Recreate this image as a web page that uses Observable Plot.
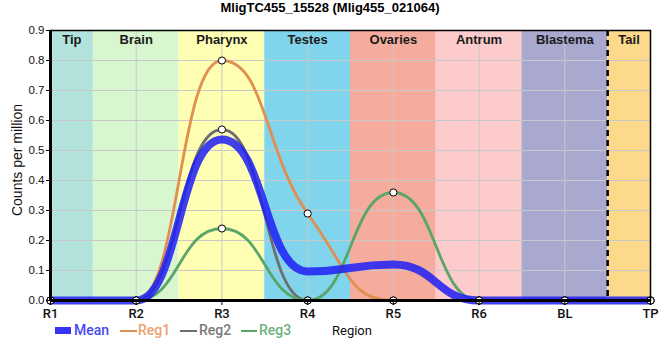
<!DOCTYPE html>
<html>
<head>
<meta charset="utf-8">
<script src="https://cdn.jsdelivr.net/npm/d3@7"></script>
<script src="https://cdn.jsdelivr.net/npm/@observablehq/plot@0.6"></script>
<style>
  body { margin: 0; background: #fff; }
  #wrap { position: relative; width: 660px; height: 360px; overflow: hidden; }
  #title { position: absolute; left: 0; top: 0; width: 660px; text-align: center;
           font: bold 13px "Liberation Sans", Arial, sans-serif; line-height: 16px; color: #000; }
  #chart { position: absolute; left: 0; top: 0; }
  #ylabel { position: absolute; left: 17px; top: 160px; transform: translate(-50%, -50%) rotate(-90deg);
            white-space: nowrap; font: 14px "Liberation Sans", Arial, sans-serif; line-height: 16px; color: #111; }
  #legend { position: absolute; left: 0; top: 0; width: 660px; height: 360px; pointer-events: none; }
  .sw { position: absolute; }
  .lt { position: absolute; top: 322px; font: 500 14px Roboto, "Open Sans", sans-serif; line-height: 16px; }
  #xlabel { position: absolute; left: 332px; top: 322.5px; font: 13px Roboto, sans-serif; line-height: 16px; color: #111; }
</style>
</head>
<body>
<div id="wrap">
  <div id="chart"></div>
  <div id="title"></div>
  <div id="ylabel"></div>
  <div id="legend"></div>
  <div id="xlabel"></div>
</div>
<script>
// ---- data ----
const titleText = "MligTC455_15528 (Mlig455_021064)";
const yLabel = "Counts per million";
const xLabel = "Region";
const regions = ["R1", "R2", "R3", "R4", "R5", "R6", "BL", "TP"];
const reg1 = [0, 0, 0.80, 0.29, 0, 0, 0, 0];
const reg2 = [0, 0, 0.57, 0, 0, 0, 0, 0];
const reg3 = [0, 0, 0.24, 0, 0.36, 0, 0, 0];
const mean = [0, 0, 0.537, 0.097, 0.12, 0, 0, 0];
const bandNames = ["Tip", "Brain", "Pharynx", "Testes", "Ovaries", "Antrum", "Blastema", "Tail"];
const bandColors = ["#b3e3dd", "#d8f6cf", "#ffffb4", "#80d4ec", "#f5ac9d", "#fdcbcb", "#a9a8cf", "#fdda8b"];
const yTicks = [0, 0.1, 0.2, 0.3, 0.4, 0.5, 0.6, 0.7, 0.8, 0.9];
const seriesNames = ["Mean", "Reg1", "Reg2", "Reg3"];
const seriesColors = ["#1f1ff5", "#e08f50", "#6e6e6e", "#5aa56a"];
const legendTextColors = ["#4848f2", "#eea06e", "#7a7a7a", "#6cb27b"];

// ---- smooth monotone curve (rendering only: bezier segments through the scaled points) ----
function curveSmoothMono(context) {
  const K = 0.5;
  let pts = [];
  return {
    areaStart() {}, areaEnd() {},
    lineStart() { pts = []; },
    point(x, y) { pts.push([+x, +y]); },
    lineEnd() {
      const n = pts.length;
      if (!n) return;
      context.moveTo(pts[0][0], pts[0][1]);
      if (n === 1) return;
      const s = [];
      for (let i = 0; i < n - 1; i++) s.push((pts[i + 1][1] - pts[i][1]) / (pts[i + 1][0] - pts[i][0]));
      const m = new Array(n);
      m[0] = s[0]; m[n - 1] = s[n - 2];
      for (let i = 1; i < n - 1; i++) {
        const h0 = pts[i][0] - pts[i - 1][0], h1 = pts[i + 1][0] - pts[i][0];
        const p = (s[i - 1] * h1 + s[i] * h0) / (h0 + h1);
        m[i] = (Math.sign(s[i - 1]) + Math.sign(s[i])) * Math.min(Math.abs(s[i - 1]), Math.abs(s[i]), 0.5 * Math.abs(p)) || 0;
      }
      if (n > 2) { m[0] = 0; m[n - 1] = 0; }
      for (let i = 0; i < n - 1; i++) {
        const [x0, y0] = pts[i], [x1, y1] = pts[i + 1], dx = x1 - x0;
        context.bezierCurveTo(x0 + K * dx, y0 + K * dx * m[i], x1 - K * dx, y1 - K * dx * m[i + 1], x1, y1);
      }
    }
  };
}

// ---- derived tables ----
const idx = regions.map((_, i) => i);
const last = regions.length - 1;
const bands = bandNames.map((name, i) => ({
  name, color: bandColors[i],
  x1: Math.max(0, i - 0.5), x2: Math.min(last, i + 0.5),
  xc: (Math.max(0, i - 0.5) + Math.min(last, i + 0.5)) / 2
}));
const tailStart = bands[bandNames.indexOf("Tail")].x1;
const toRows = (vals, s) => vals.map((v, i) => ({ i, v, s }));
const rows1 = toRows(reg1, "Reg1"), rows2 = toRows(reg2, "Reg2"), rows3 = toRows(reg3, "Reg3");
const rowsM = toRows(mean, "Mean");
const dots = [...rows1, ...rows2, ...rows3];

const font = '"Liberation Sans", Arial, sans-serif';

const plot = Plot.plot({
  width: 660, height: 360,
  marginLeft: 50, marginRight: 10, marginTop: 30, marginBottom: 60,
  style: { fontFamily: font, fontSize: "11.5px", color: "#111", background: "transparent" },
  x: { domain: [0, last], ticks: idx, tickFormat: i => regions[i], label: null },
  y: { domain: [0, 0.9], label: null },
  marks: [
    Plot.rect(bands, { x1: "x1", x2: "x2", fill: "color" }),
    Plot.gridY(yTicks, { stroke: "#c8c8c8", strokeOpacity: 1, strokeWidth: 1 }),
    Plot.gridX(idx, { stroke: "#c8c8c8", strokeOpacity: 1, strokeWidth: 1 }),
    Plot.text(bands, { x: "xc", text: "name", frameAnchor: "top", lineAnchor: "top", dy: 4,
      fontWeight: "bold", fontSize: 13, fill: "#1a1a1a", fontFamily: font }),
    Plot.ruleX([tailStart], { stroke: "#000", strokeWidth: 2.5, strokeDasharray: "6,4" }),
    Plot.line(rows1, { x: "i", y: "v", curve: curveSmoothMono, stroke: seriesColors[1], strokeWidth: 2.8 }),
    Plot.line(rows2, { x: "i", y: "v", curve: curveSmoothMono, stroke: seriesColors[2], strokeWidth: 2.8 }),
    Plot.line(rows3, { x: "i", y: "v", curve: curveSmoothMono, stroke: seriesColors[3], strokeWidth: 2.8 }),
    Plot.line(rowsM, { x: "i", y: "v", curve: curveSmoothMono, stroke: seriesColors[0], strokeWidth: 8, strokeOpacity: 0.85 }),
    Plot.dot(dots, { x: "i", y: "v", r: 3.6, fill: "#fff", stroke: "#000", strokeWidth: 1 }),
    Plot.frame({ stroke: "#000", strokeWidth: 1.5 }),
    Plot.ruleX([0], { stroke: "#000", strokeWidth: 3 }),
    Plot.ruleY([0], { stroke: "#000", strokeWidth: 3 }),
    Plot.axisY(yTicks, { tickFormat: d => d.toFixed(1), tickSize: 4, tickPadding: 2, stroke: "#000",
      label: null, fontSize: 11.5, fill: "#111" }),
    Plot.axisX(idx, { tickFormat: i => regions[i], tickSize: 5, tickPadding: 3, stroke: "#000",
      label: null, fontSize: 13, fontFamily: "Roboto, sans-serif", fontWeight: 500, fill: "#111" })
  ]
});
document.getElementById("chart").appendChild(plot);
document.getElementById("title").textContent = titleText;
document.getElementById("ylabel").textContent = yLabel;
document.getElementById("xlabel").textContent = xLabel;

// ---- legend ----
const legend = document.getElementById("legend");
const items = [
  { sw: 55, sww: 15.5, swh: 7.5, top: 326.8, txt: 74 },
  { sw: 120, sww: 17, swh: 2.5, top: 329.5, txt: 138 },
  { sw: 180, sww: 17, swh: 2.5, top: 329.5, txt: 199 },
  { sw: 241, sww: 16, swh: 2.5, top: 329.5, txt: 259 }
];
seriesNames.forEach((name, k) => {
  const it = items[k];
  const s = document.createElement("div");
  s.className = "sw";
  s.style.cssText = `left:${it.sw}px;top:${it.top}px;width:${it.sww}px;height:${it.swh}px;background:${seriesColors[k]};opacity:${k === 0 ? 0.9 : 1}`;
  legend.appendChild(s);
  const t = document.createElement("div");
  t.className = "lt";
  t.style.left = it.txt + "px";
  t.style.color = legendTextColors[k];
  t.textContent = name;
  legend.appendChild(t);
});
</script>
</body>
</html>
